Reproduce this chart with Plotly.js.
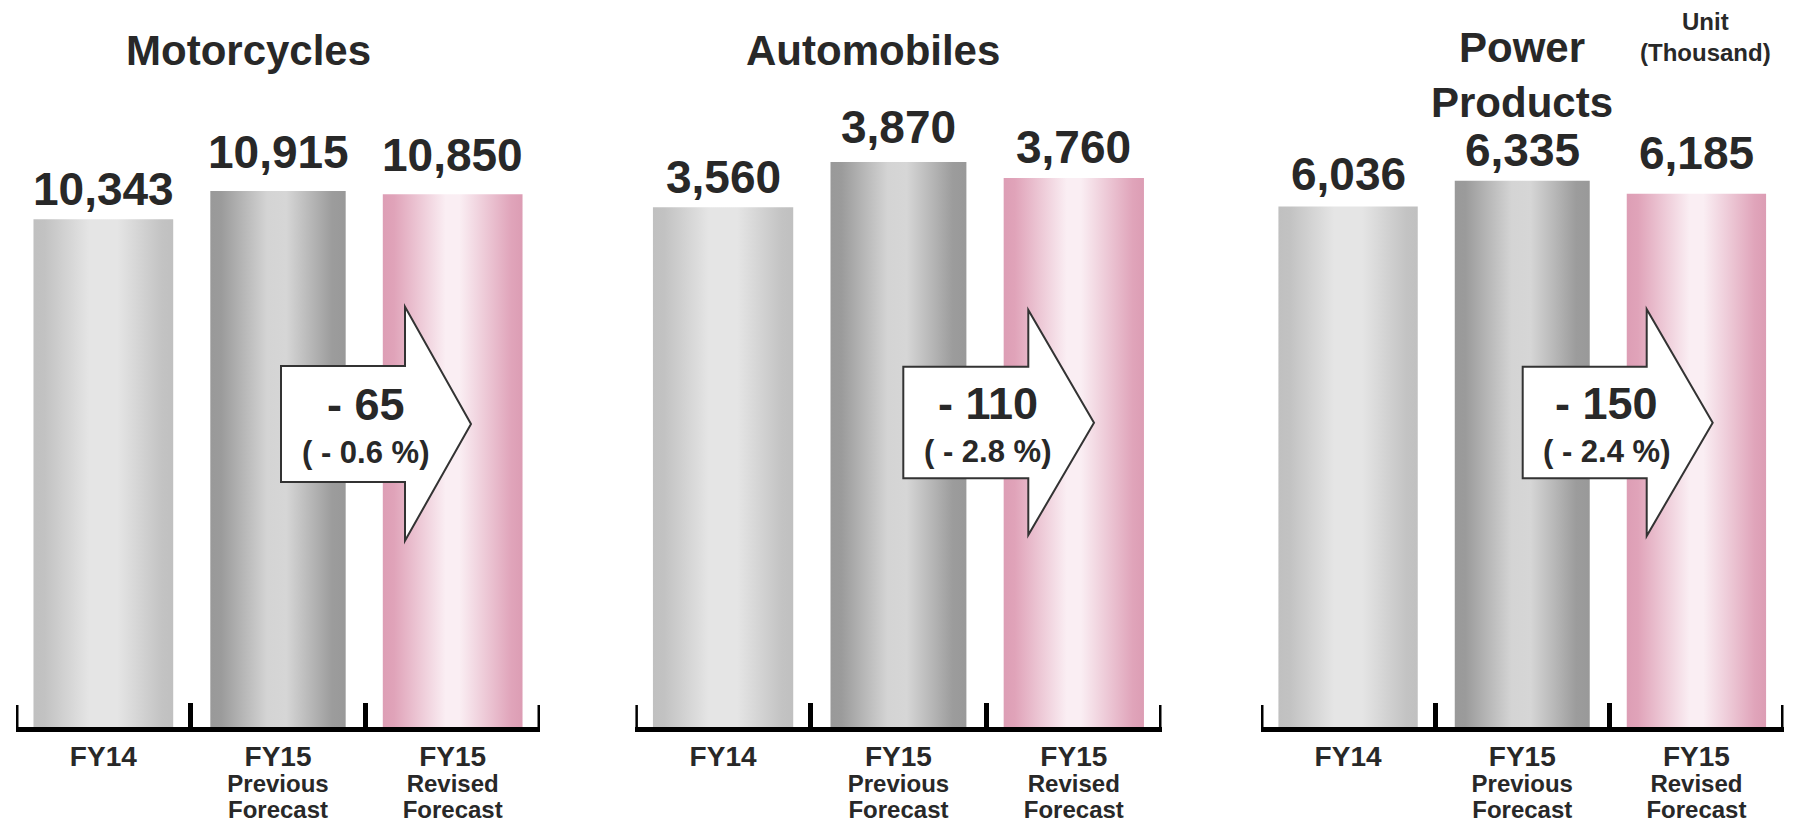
<!DOCTYPE html>
<html>
<head>
<meta charset="utf-8">
<script src="https://cdn.plot.ly/plotly-3.0.1.min.js"></script>
<style>
  html, body { margin: 0; padding: 0; background: #ffffff; }
  #chart { width: 1795px; height: 822px; }
</style>
</head>
<body>
<svg width="0" height="0" style="position:absolute">
  <defs>
    <linearGradient id="gradFY14" x1="0" y1="0" x2="1" y2="0">
      <stop offset="0" stop-color="#c0c0c0"/>
      <stop offset="0.08" stop-color="#c2c2c2"/>
      <stop offset="0.40" stop-color="#e5e5e5"/>
      <stop offset="0.60" stop-color="#e5e5e5"/>
      <stop offset="0.92" stop-color="#c3c3c3"/>
      <stop offset="1" stop-color="#c0c0c0"/>
    </linearGradient>
    <linearGradient id="gradPrev" x1="0" y1="0" x2="1" y2="0">
      <stop offset="0" stop-color="#999999"/>
      <stop offset="0.08" stop-color="#9b9b9b"/>
      <stop offset="0.42" stop-color="#d4d4d4"/>
      <stop offset="0.56" stop-color="#d6d6d6"/>
      <stop offset="0.90" stop-color="#9c9c9c"/>
      <stop offset="1" stop-color="#999999"/>
    </linearGradient>
    <linearGradient id="gradRev" x1="0" y1="0" x2="1" y2="0">
      <stop offset="0" stop-color="#dd9eb5"/>
      <stop offset="0.08" stop-color="#e0a3b9"/>
      <stop offset="0.45" stop-color="#faeef3"/>
      <stop offset="0.55" stop-color="#faeef3"/>
      <stop offset="0.92" stop-color="#e0a4ba"/>
      <stop offset="1" stop-color="#dc9db4"/>
    </linearGradient>
  </defs>
</svg>
<div id="chart"></div>
<script>
// ---------------- data ----------------
const categories = ['FY14', 'FY15 Previous Forecast', 'FY15 Revised Forecast'];
const tickLabels = [
  "<span style='font-size:28px'>FY14</span>",
  "<span style='font-size:28px'>FY15</span><br><span style='font-size:24px'>Previous</span><br><span style='font-size:24px'>Forecast</span>",
  "<span style='font-size:28px'>FY15</span><br><span style='font-size:24px'>Revised</span><br><span style='font-size:24px'>Forecast</span>"
];
const segments = ['Motorcycles', 'Automobiles', 'Power<br>Products'];
const motorcycles = [10343, 10915, 10850];
const automobiles = [3560, 3870, 3760];
const powerProducts = [6036, 6335, 6185];
const unitLabel = 'Unit<br>(Thousand)';

// ---------------- styles / layout helpers ----------------
const W = 1795, H = 822;
const FONT = 'Liberation Sans, Arial, Helvetica, sans-serif';
const TXT = '#282828';
const px = v => v / W;
const py = v => 1 - v / H;

const series = [motorcycles, automobiles, powerProducts];
const xDomains = [[16, 540], [635.4, 1161.5], [1261, 1783.5]];
const yTops = [14807, 4979, 8431];
const yDomain = [1 - 727 / H, 1];
const baseColors = ['#d6d6d6', '#bdbdbd', '#eec6d5'];
const gradIds = ['gradFY14', 'gradPrev', 'gradRev'];
const barWidths = [0.8, 0.775, 0.8];
const labelShift = [[2, 11, 11], [2, 7, 3], [5, 3, 13]];
const titleX = [248, 873, 1522];
const arrows = [
  {l: 281, hb: 405, tip: 471, bt: 366, bb: 482, ht: 306.7, hbo: 540.7, ty: 424, tx: 365.5},
  {l: 903.3, hb: 1028.3, tip: 1094, bt: 366.7, bb: 478.3, ht: 310, hbo: 535, ty: 422.7, tx: 987.5},
  {l: 1522.7, hb: 1646.7, tip: 1712.7, bt: 366.7, bb: 478.3, ht: 309.3, hbo: 536, ty: 422.7, tx: 1606.5}
];

const traces = [];
const layout = {
  width: W, height: H,
  margin: {l: 0, r: 0, t: 0, b: 0, pad: 0},
  paper_bgcolor: '#ffffff', plot_bgcolor: 'rgba(0,0,0,0)',
  showlegend: false,
  bargap: 0.2,
  font: {family: FONT, color: TXT},
  annotations: [],
  shapes: []
};

series.forEach((vals, i) => {
  const n = i === 0 ? '' : String(i + 1);
  traces.push({
    type: 'bar',
    x: categories,
    y: vals,
    xaxis: 'x' + n,
    yaxis: 'y' + n,
    width: barWidths,
    marker: {color: baseColors, line: {width: 0}},
    hoverinfo: 'skip'
  });
  layout['xaxis' + n] = {
    domain: [px(xDomains[i][0]), px(xDomains[i][1])],
    anchor: 'y' + n,
    type: 'category',
    categoryorder: 'array', categoryarray: categories,
    range: [-0.5, 2.5],
    tickmode: 'array', tickvals: categories, ticktext: tickLabels,
    tickson: 'boundaries',
    ticks: 'inside', ticklen: 24, tickwidth: 5, tickcolor: '#000000',
    ticklabelstandoff: 10,
    showline: true, linewidth: 5, linecolor: '#000000',
    showgrid: false, zeroline: false,
    tickfont: {family: FONT, size: 20, color: TXT, weight: 'bold'},
    automargin: false, fixedrange: true
  };
  layout['yaxis' + n] = {
    domain: yDomain, anchor: 'x' + n,
    range: [0, yTops[i]],
    visible: false, showgrid: false, zeroline: false, fixedrange: true
  };
  // end ticks of the category axis
  [-0.5, 2.5].forEach(xv => {
    layout.shapes.push({
      type: 'line', xref: 'x' + n, yref: 'paper',
      x0: xv, x1: xv, y0: py(731), y1: py(705),
      line: {color: '#000000', width: 5}
    });
  });
  // value labels
  vals.forEach((v, j) => {
    layout.annotations.push({
      xref: 'x' + n, yref: 'y' + n, x: categories[j], y: v,
      xanchor: 'center', yanchor: 'bottom', yshift: labelShift[i][j],
      text: v.toLocaleString('en-US'), showarrow: false,
      font: {family: FONT, size: 46, color: TXT, weight: 'bold'}
    });
  });
  // segment titles
  layout.annotations.push({
    xref: 'paper', yref: 'paper', x: px(titleX[i]),
    y: i === 2 ? py(128) : py(76.4),
    xanchor: 'center', yanchor: 'bottom',
    text: segments[i], showarrow: false,
    font: {family: FONT, size: 42, color: TXT, weight: 'bold'}
  });
  // change arrow
  const a = arrows[i];
  layout.shapes.push({
    type: 'path', xref: 'paper', yref: 'paper',
    path: 'M' + px(a.l) + ',' + py(a.bt) +
          ' L' + px(a.hb) + ',' + py(a.bt) +
          ' L' + px(a.hb) + ',' + py(a.ht) +
          ' L' + px(a.tip) + ',' + py(a.ty) +
          ' L' + px(a.hb) + ',' + py(a.hbo) +
          ' L' + px(a.hb) + ',' + py(a.bb) +
          ' L' + px(a.l) + ',' + py(a.bb) + ' Z',
    fillcolor: '#ffffff', line: {color: '#333333', width: 2}
  });
  const diff = vals[2] - vals[1];
  const pct = Math.abs(diff) / vals[1] * 100;
  layout.annotations.push({
    xref: 'paper', yref: 'paper', x: px(a.tx), y: py(a.ty + 8),
    xanchor: 'center', yanchor: 'bottom',
    text: (diff < 0 ? '- ' : '+ ') + Math.abs(diff), showarrow: false,
    font: {family: FONT, size: 45, color: TXT, weight: 'bold'}
  });
  layout.annotations.push({
    xref: 'paper', yref: 'paper', x: px(a.tx), y: py(a.ty + 48),
    xanchor: 'center', yanchor: 'bottom',
    text: '( ' + (diff < 0 ? '- ' : '+ ') + pct.toFixed(1) + ' %)', showarrow: false,
    font: {family: FONT, size: 31, color: TXT, weight: 'bold'}
  });
});

layout.annotations.push({
  xref: 'paper', yref: 'paper', x: px(1705), y: py(67.8),
  xanchor: 'center', yanchor: 'bottom',
  text: unitLabel, showarrow: false,
  font: {family: FONT, size: 24, color: TXT, weight: 'bold'}
});

Plotly.newPlot('chart', traces, layout, {staticPlot: true, displayModeBar: false}).then(gd => {
  const traceGroups = gd.querySelectorAll('.barlayer .trace');
  traceGroups.forEach(tg => {
    tg.querySelectorAll('.point path').forEach((p, j) => {
      p.style.fill = 'url(#' + gradIds[j] + ')';
    });
  });
});
</script>
</body>
</html>
